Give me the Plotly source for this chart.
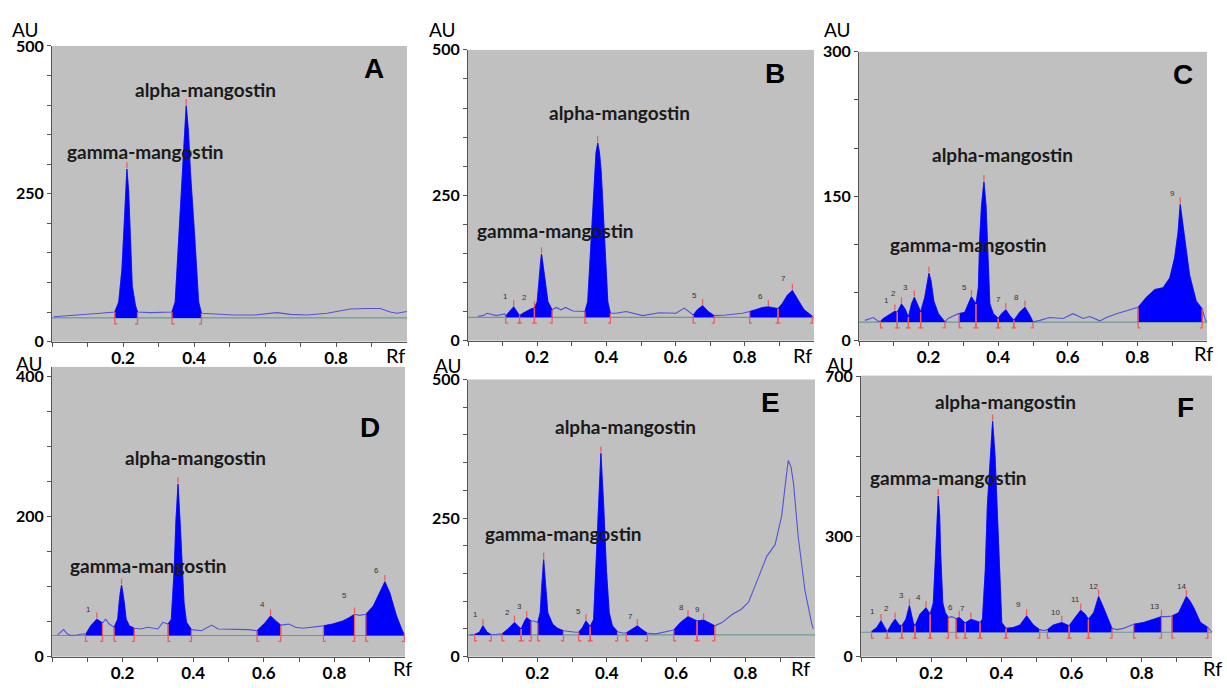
import plotly.graph_objects as go

W, H = 1227, 688

# ---------------- data (Rf, AU) ----------------
A_rf = [0.005, 0.042, 0.089, 0.136, 0.177, 0.188, 0.197, 0.204, 0.208, 0.211, 0.216, 0.221, 0.226, 0.235, 0.241,
        0.277, 0.324, 0.338, 0.347, 0.357, 0.366, 0.373, 0.378, 0.384, 0.390, 0.402, 0.413, 0.421,
        0.465, 0.512, 0.568, 0.634, 0.671, 0.718, 0.775, 0.840, 0.887, 0.925, 0.953, 0.972, 1.0]
A_au = [42, 44, 46, 48, 50, 67, 122, 204, 259, 292, 253, 177, 94, 61, 50,
        49, 50, 50, 67, 177, 286, 352, 399, 358, 286, 177, 67, 48,
        46, 45, 45, 49, 46, 45, 48, 55, 56, 56, 50, 48, 51]
A_base = 40
A_peaks = [(0.177, 0.241), (0.338, 0.421)]
A_nums = []

B_rf = [0.029, 0.043, 0.055, 0.067, 0.082, 0.106, 0.109, 0.120, 0.132, 0.141, 0.149, 0.159, 0.170, 0.184, 0.192,
        0.200, 0.204, 0.207, 0.210, 0.2125, 0.215, 0.219, 0.224, 0.231, 0.243, 0.255, 0.269, 0.282, 0.303, 0.322,
        0.338, 0.346, 0.356, 0.365, 0.370, 0.375, 0.380, 0.385, 0.394, 0.404, 0.4115, 0.428, 0.457, 0.505, 0.553,
        0.601, 0.625, 0.644, 0.651, 0.663, 0.678, 0.694, 0.7115, 0.745, 0.793, 0.814, 0.832, 0.851, 0.868, 0.885,
        0.896, 0.909, 0.923, 0.9375, 0.952, 0.971, 0.995]
B_au = [42, 43, 47, 45, 43, 46, 42, 50, 58, 50, 43, 47, 51, 55, 56,
        67, 95, 122, 139, 149, 139, 122, 95, 67, 53, 57, 53, 57, 51, 50,
        50, 67, 178, 290, 323, 340, 323, 290, 178, 67, 47, 47, 50, 43, 48,
        47, 56, 47, 44, 53, 60, 50, 43, 44, 47, 50, 53, 57, 58, 56,
        55, 64, 78, 86, 72, 53, 42]
B_base = 40
B_peaks = [(0.109, 0.149), (0.149, 0.192), (0.192, 0.243), (0.338, 0.4115), (0.651, 0.7115), (0.814, 0.896), (0.896, 0.995)]
B_nums = [("1", 0.109, 75), ("2", 0.162, 74), ("5", 0.654, 78), ("6", 0.846, 75), ("7", 0.913, 106)]

C_rf = [0.017, 0.032, 0.041, 0.056, 0.062, 0.070, 0.089, 0.103, 0.110, 0.122, 0.132, 0.142, 0.151, 0.159, 0.170,
        0.177, 0.189, 0.196, 0.201, 0.207, 0.215, 0.228, 0.247, 0.256, 0.271, 0.285, 0.288, 0.304, 0.323, 0.336,
        0.343, 0.347, 0.352, 0.359, 0.365, 0.368, 0.376, 0.386, 0.400, 0.410, 0.422, 0.433, 0.445, 0.462, 0.477,
        0.491, 0.500, 0.520, 0.548, 0.587, 0.615, 0.644, 0.663, 0.692, 0.711, 0.740, 0.768, 0.802, 0.826, 0.850,
        0.874, 0.893, 0.907, 0.917, 0.923, 0.936, 0.950, 0.969, 0.986, 0.993, 0.998]
C_au = [21, 23, 24, 20, 20, 23, 27, 30.5, 29.5, 38, 33, 24.4, 38, 45, 36,
        29.5, 45, 62, 70, 62, 41, 28, 19.5, 23, 26, 28, 28, 29.5, 45.5, 38,
        55, 106, 140, 165, 140, 106, 38, 28, 23, 28, 32, 26, 21, 29.5, 34.6,
        26, 19.5, 21, 24, 23, 28, 23, 25, 20.5, 24, 28, 31, 34.6, 45, 53,
        55, 65, 86, 113, 141.5, 106, 68, 41, 33, 24, 19.5]
C_base = 19.3
C_peaks = [(0.062, 0.110), (0.110, 0.142), (0.142, 0.177), (0.177, 0.247), (0.288, 0.336), (0.336, 0.400),
           (0.400, 0.445), (0.445, 0.500), (0.802, 0.986)]
C_nums = [("1", 0.079, 42), ("2", 0.100, 49), ("3", 0.135, 55.6), ("5", 0.302, 55.6), ("7", 0.400, 43),
          ("8", 0.453, 44.8), ("9", 0.902, 153)]

D_rf = [0.016, 0.026, 0.033, 0.043, 0.052, 0.071, 0.090, 0.095, 0.110, 0.127, 0.138, 0.143, 0.152, 0.162, 0.176,
        0.186, 0.190, 0.193, 0.197, 0.201, 0.205, 0.210, 0.219, 0.233, 0.252, 0.271, 0.300, 0.314, 0.329, 0.338,
        0.346, 0.351, 0.357, 0.363, 0.370, 0.374, 0.381, 0.395, 0.424, 0.452, 0.471, 0.519, 0.557, 0.581, 0.605,
        0.619, 0.633, 0.648, 0.671, 0.690, 0.710, 0.738, 0.769, 0.795, 0.824, 0.843, 0.857, 0.871, 0.889, 0.910,
        0.929, 0.943, 0.957, 0.976, 0.990, 0.998]
D_au = [31, 35, 38.6, 32.6, 30.5, 31, 32.6, 31.6, 44, 53.5, 50, 48, 53.5, 46.5, 42,
        53.5, 77, 91, 102, 91, 77, 53.5, 44, 40.5, 39.5, 42, 39.5, 49, 46.5, 53.5,
        123, 193, 246.5, 193, 123, 77, 49, 38.6, 37, 45, 39.5, 38.6, 38.6, 37, 49,
        58, 51, 45, 46.5, 42, 40.5, 42, 44, 46.5, 51, 56, 60.5, 59, 60.5, 72,
        91, 107, 91, 58, 40, 32]
D_base = 30.2
D_peaks = [(0.095, 0.143), (0.176, 0.233), (0.329, 0.395), (0.581, 0.648), (0.769, 0.857), (0.889, 0.998)]
D_nums = [("1", 0.102, 67), ("4", 0.595, 74), ("5", 0.829, 88), ("6", 0.919, 123)]

E_rf = [0.005, 0.019, 0.033, 0.043, 0.055, 0.067, 0.077, 0.091, 0.098, 0.115, 0.134, 0.153, 0.163, 0.169, 0.182,
        0.189, 0.201, 0.208, 0.212, 0.218, 0.224, 0.230, 0.244, 0.258, 0.275, 0.292, 0.311, 0.319, 0.330, 0.340,
        0.352, 0.362, 0.368, 0.375, 0.383, 0.391, 0.399, 0.407, 0.416, 0.431, 0.445, 0.456, 0.474, 0.488, 0.502,
        0.517, 0.541, 0.569, 0.593, 0.612, 0.634, 0.660, 0.679, 0.699, 0.711, 0.732, 0.761, 0.789, 0.809, 0.837,
        0.861, 0.885, 0.904, 0.916, 0.923, 0.931, 0.938, 0.952, 0.971, 0.990, 0.995]
E_au = [39, 40, 44, 55.6, 44, 40, 40, 41, 41, 49.7, 61.4, 49.7, 64.3, 70.2, 64.3,
        64.3, 61.4, 79, 126, 175, 126, 79, 58.5, 51, 46.8, 45, 44, 44, 52.6, 64.3,
        54.4, 67, 155, 272, 367, 272, 155, 79, 55.6, 45, 42.7, 42.7, 49.7, 55.6, 48.5,
        42, 41, 45, 48, 61.4, 72, 64.3, 66, 60, 55.6, 61.4, 76, 86, 99, 143,
        181, 202, 254, 319, 354, 342, 313, 214, 120, 61, 50]
E_base = 39.2
E_peaks = [(0.019, 0.067), (0.098, 0.153), (0.153, 0.182), (0.201, 0.275), (0.319, 0.352), (0.352, 0.431),
           (0.456, 0.517), (0.593, 0.660), (0.660, 0.711)]
E_nums = [("1", 0.021, 76), ("2", 0.113, 79), ("3", 0.148, 90.6), ("5", 0.319, 82), ("7", 0.469, 73),
          ("8", 0.615, 89.5), ("9", 0.660, 85)]

F_rf = [0.030, 0.045, 0.057, 0.067, 0.075, 0.087, 0.097, 0.109, 0.116, 0.128, 0.138, 0.149, 0.154, 0.168, 0.178,
        0.185, 0.197, 0.206, 0.213, 0.217, 0.220, 0.224, 0.227, 0.233, 0.240, 0.249, 0.259, 0.271, 0.280, 0.297,
        0.313, 0.330, 0.339, 0.346, 0.354, 0.360, 0.368, 0.375, 0.382, 0.387, 0.394, 0.401, 0.413, 0.434, 0.453,
        0.472, 0.491, 0.509, 0.520, 0.531, 0.548, 0.572, 0.593, 0.610, 0.626, 0.639, 0.648, 0.663, 0.677, 0.693,
        0.705, 0.715, 0.729, 0.748, 0.777, 0.805, 0.834, 0.856, 0.872, 0.886, 0.905, 0.919, 0.927, 0.938, 0.948,
        0.967, 0.988, 1.0]
F_au = [62.6, 73, 89.4, 73, 62.6, 81, 93.5, 79, 77, 93.5, 127.6, 84, 77, 106, 116,
        122, 106, 134, 256, 362, 402, 354, 256, 134, 110, 97.6, 100, 95, 97.6, 84,
        93.5, 89.4, 85.4, 93.5, 215, 378, 500, 589, 500, 378, 215, 85.4, 70.7, 73, 79,
        101.6, 79, 67.5, 65, 67.5, 79, 85.4, 77, 97.6, 116, 105.7, 93.5, 110, 150.4, 118,
        89.4, 70.7, 67.5, 70.7, 81, 85.4, 93.5, 100, 100, 101.6, 110, 134, 150.4, 138, 122,
        85.4, 73, 61]
F_base = 61
F_peaks = [(0.030, 0.075), (0.075, 0.116), (0.116, 0.154), (0.154, 0.197), (0.197, 0.249), (0.271, 0.297),
           (0.297, 0.339), (0.339, 0.413), (0.413, 0.509), (0.531, 0.593), (0.593, 0.648), (0.648, 0.715),
           (0.777, 0.856), (0.886, 0.988)]
F_nums = [("1", 0.033, 114), ("2", 0.073, 120), ("3", 0.116, 154), ("4", 0.164, 149), ("6", 0.254, 124),
          ("7", 0.290, 120), ("9", 0.449, 130), ("10", 0.553, 110), ("11", 0.610, 142), ("12", 0.661, 176),
          ("13", 0.837, 126), ("14", 0.914, 175)]

X_TICKS = [0.0, 0.1, 0.2, 0.3, 0.4, 0.5, 0.6, 0.7, 0.8, 0.9]
X_TICK_LABELS = ["", "", "0.2", "", "0.4", "", "0.6", "", "0.8", ""]

# ---------------- layout / style per panel (pixel boxes) ----------------
panels = [
    dict(letter="A", rf=A_rf, au=A_au, base=A_base, peaks=A_peaks, nums=A_nums,
         box=(52, 407, 37, 341), ymax=500, ylab=[0, 250, 500],
         alpha=(205, 82), gamma=(145, 146), let=(374, 60), au_pos=(25, 20), rf_pos=(395, 355)),
    dict(letter="B", rf=B_rf, au=B_au, base=B_base, peaks=B_peaks, nums=B_nums,
         box=(468, 814, 41, 340), ymax=500, ylab=[0, 250, 500],
         alpha=(619, 105), gamma=(555, 227), let=(775, 65), au_pos=(442, 20), rf_pos=(802, 355)),
    dict(letter="C", rf=C_rf, au=C_au, base=C_base, peaks=C_peaks, nums=C_nums,
         box=(859, 1207, 43, 340), ymax=300, ylab=[0, 150, 300],
         alpha=(1002, 149), gamma=(968, 241), let=(1183, 66), au_pos=(837, 20), rf_pos=(1203, 353)),
    dict(letter="D", rf=D_rf, au=D_au, base=D_base, peaks=D_peaks, nums=D_nums,
         box=(52, 405, 367, 665), ymax=414, ylab=[0, 200, 400],
         alpha=(196, 460), gamma=(148, 571), let=(370, 429), au_pos=(29, 364), rf_pos=(402, 677)),
    dict(letter="E", rf=E_rf, au=E_au, base=E_base, peaks=E_peaks, nums=E_nums,
         box=(468, 815, 380, 665), ymax=500, ylab=[0, 250, 500],
         alpha=(625, 428), gamma=(563, 538), let=(771, 404), au_pos=(448, 366), rf_pos=(800, 677)),
    dict(letter="F", rf=F_rf, au=F_au, base=F_base, peaks=F_peaks, nums=F_nums,
         box=(861, 1212, 376, 665), ymax=703, ylab=[0, 300, 700],
         alpha=(1005, 403), gamma=(948, 481), let=(1185, 409), au_pos=(840, 365), rf_pos=(1212, 677)),
]

LINE_C = "#5252d8"
FILL_C = "#0000ff"
BASE_C = "#6a9a96"
RED_C = "#f25c5c"
TXT_C = "#1a1a1a"
FONT = "Lato"


def nearest(xs, v):
    return min(range(len(xs)), key=lambda j: abs(xs[j] - v))


fig = go.Figure()
annotations = []
layout_axes = {}

for i, p in enumerate(panels, start=1):
    xa = "x" if i == 1 else f"x{i}"
    ya = "y" if i == 1 else f"y{i}"
    l, r, t, b = p["box"]
    xmax, ymax = 1.0, p["ymax"]
    ux = xmax / (r - l)
    uy = ymax / (b - t)
    rf, au, base = p["rf"], p["au"], p["base"]

    fig.add_trace(go.Scatter(x=[0, xmax], y=[base, base], mode="lines",
                             line=dict(color=BASE_C, width=1.2), xaxis=xa, yaxis=ya, hoverinfo="skip"))
    fig.add_trace(go.Scatter(x=rf, y=au, mode="lines", line=dict(color=LINE_C, width=1.1),
                             xaxis=xa, yaxis=ya, hoverinfo="skip"))

    fx, fy, mx, my = [], [], [], []
    for s, e in p["peaks"]:
        i0, i1 = nearest(rf, s), nearest(rf, e)
        fx += [rf[i0]] + rf[i0:i1 + 1] + [rf[i1], None]
        fy += [base] + au[i0:i1 + 1] + [base, None]
        for k, d in ((i0, 1), (i1, -1)):
            xb = rf[k]
            mx += [xb, xb, xb + d * 2.5 * ux, None]
            my += [au[k], base - 6 * uy, base - 6 * uy, None]
        ka = max(range(i0, i1 + 1), key=lambda j: au[j])
        mx += [rf[ka], rf[ka], None]
        my += [au[ka] + 1 * uy, au[ka] + 7 * uy, None]

    fig.add_trace(go.Scatter(x=fx, y=fy, mode="lines", fill="toself", fillcolor=FILL_C,
                             line=dict(color=FILL_C, width=0.6), xaxis=xa, yaxis=ya, hoverinfo="skip"))
    fig.add_trace(go.Scatter(x=mx, y=my, mode="lines", line=dict(color=RED_C, width=1.3),
                             xaxis=xa, yaxis=ya, hoverinfo="skip"))

    for txt, xv, yv in p["nums"]:
        annotations.append(dict(x=xv, y=yv, xref=xa, yref=ya, text=txt, showarrow=False,
                                font=dict(family="Liberation Sans", size=8, color="#333333")))

    yt = list(range(0, int(ymax) + 1, 50)) if ymax < 600 else list(range(0, int(ymax) + 1, 100))
    ytt = [str(v) if v in p["ylab"] else "" for v in yt]
    sx = "" if i == 1 else str(i)
    layout_axes[f"xaxis{sx}"] = dict(
        domain=[l / W, r / W], range=[0, xmax], anchor=ya, tickmode="array", tickvals=X_TICKS,
        ticktext=X_TICK_LABELS, ticks="outside", ticklen=4, tickcolor="#555555", showgrid=False,
        zeroline=False, showline=True, linecolor="#555555", linewidth=1, ticklabelstandoff=-3,
        tickfont=dict(family=FONT, size=17, color="#000000", weight="bold"), fixedrange=True)
    layout_axes[f"yaxis{sx}"] = dict(
        domain=[1 - b / H, 1 - t / H], range=[0, ymax], anchor=xa, tickmode="array", tickvals=yt,
        ticktext=ytt, ticks="outside", ticklen=4, tickcolor="#555555", showgrid=False,
        zeroline=False, showline=True, linecolor="#555555", linewidth=1,
        tickfont=dict(family=FONT, size=16, color="#000000", weight="bold"), fixedrange=True)

    def add_px(txt, pos, size, weight="normal", color=TXT_C, family=FONT):
        annotations.append(dict(x=pos[0] / W, y=1 - pos[1] / H, xref="paper", yref="paper", text=txt,
                                showarrow=False, xanchor="center", yanchor="middle",
                                font=dict(family=family, size=size, color=color, weight=weight)))

    add_px("alpha-mangostin", p["alpha"], 19, "bold")
    add_px("gamma-mangostin", p["gamma"], 19, "bold")
    add_px(p["letter"], p["let"], 28, "bold", "#000000", "Liberation Sans")
    add_px("AU", p["au_pos"], 19, "normal", "#000000")
    add_px("Rf", p["rf_pos"], 20, "normal", "#000000")

fig.update_layout(width=W, height=H, margin=dict(l=0, r=0, t=0, b=0), paper_bgcolor="white",
                  plot_bgcolor="#c0c0c0", showlegend=False, annotations=annotations,
                  font=dict(family=FONT, color=TXT_C), **layout_axes)

fig.write_html("out.html", config={"displayModeBar": False, "staticPlot": True},
               post_script="document.body.style.margin='0';document.body.style.overflow='hidden';")
